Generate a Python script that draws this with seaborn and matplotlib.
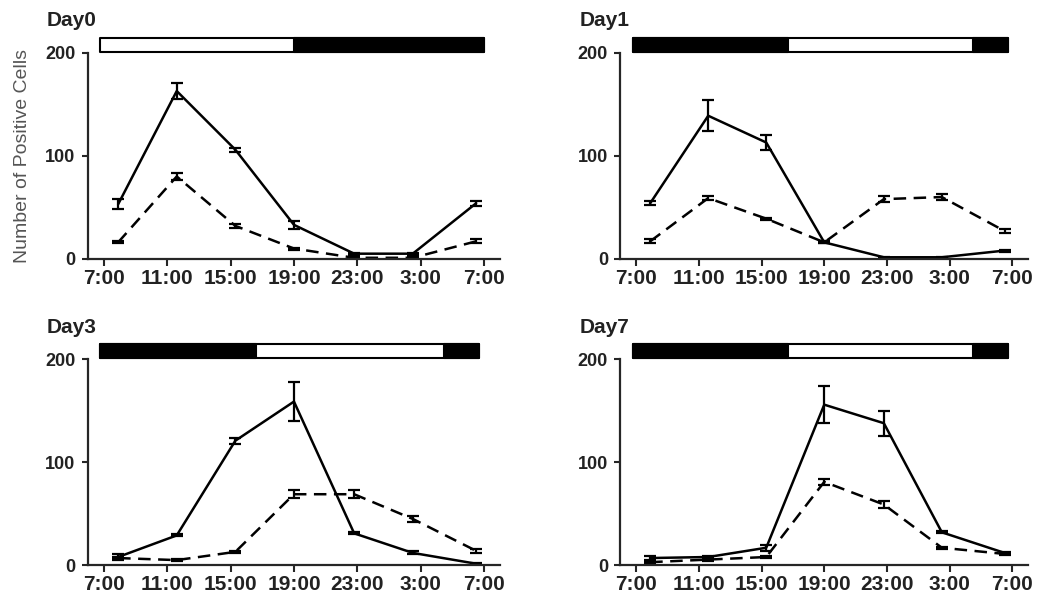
import matplotlib
matplotlib.use("Agg")
import matplotlib.pyplot as plt
import seaborn as sns
import pandas as pd

# sampling times (hours from midnight of day 0, >24 means next day)
times = [7.9, 11.6, 15.3, 19.0, 22.8, 26.5, 30.5]
tick_hours = [7, 11, 15, 19, 23, 27, 31]
tick_labels = ["7:00", "11:00", "15:00", "19:00", "23:00", "3:00", "7:00"]
panel_titles = ["Day0", "Day1", "Day3", "Day7"]

# solid line series (mean, error)
day0_solid = [53, 163, 106, 33, 5, 5, 54]
day0_solid_err = [5, 8, 2, 4, 1, 1, 2.5]
day1_solid = [54, 139, 113, 16, 1.5, 1.5, 8]
day1_solid_err = [2, 15, 7, 1, 0.5, 0.5, 1]
day3_solid = [8, 29, 121, 159, 31, 12, 1.5]
day3_solid_err = [3, 1, 3, 19, 1, 1.5, 0.5]
day7_solid = [7, 8, 17, 156, 138, 32, 12]
day7_solid_err = [2, 1, 3, 18, 12, 1, 1]

# dashed line series (mean, error)
day0_dash = [16, 80, 32, 10, 1, 1, 17]
day0_dash_err = [1, 3, 2, 1, 0.5, 0.5, 2]
day1_dash = [17, 59, 39, 16, 58, 60, 27]
day1_dash_err = [2, 2, 1, 1, 3, 3, 2]
day3_dash = [7, 5, 13, 69, 69, 45, 14]
day3_dash_err = [1, 1, 1, 4, 4, 2.5, 2]
day7_dash = [3, 5.5, 8, 81, 59, 17, 11]
day7_dash_err = [1, 1, 1, 3, 3.5, 1, 1]

# light/dark bar: (start, end) of whole bar and dark segments
bar_spans = [(6.75, 31.0), (6.8, 30.7), (6.75, 30.7), (6.8, 30.7)]
dark_segments = [
    [(19.0, 31.0)],
    [(6.8, 16.7), (28.5, 30.7)],
    [(6.75, 16.6), (28.5, 30.7)],
    [(6.8, 16.7), (28.5, 30.7)],
]

solids = [(day0_solid, day0_solid_err), (day1_solid, day1_solid_err),
          (day3_solid, day3_solid_err), (day7_solid, day7_solid_err)]
dashes = [(day0_dash, day0_dash_err), (day1_dash, day1_dash_err),
          (day3_dash, day3_dash_err), (day7_dash, day7_dash_err)]

sns.set_style("ticks")
plt.rcParams['font.family'] = ['Liberation Sans', 'DejaVu Sans']

fig = plt.figure(figsize=(10.48, 5.95), dpi=100)
positions = [
    [0.084, 0.565, 0.393, 0.346],
    [0.592, 0.565, 0.389, 0.346],
    [0.084, 0.050, 0.393, 0.346],
    [0.592, 0.050, 0.389, 0.346],
]

for i, pos in enumerate(positions):
    ax = fig.add_axes(pos)
    df = pd.DataFrame({"time": times,
                       "solid": solids[i][0], "dash": dashes[i][0]})
    sns.lineplot(data=df, x="time", y="solid", ax=ax, color="black",
                 linewidth=1.8)
    sns.lineplot(data=df, x="time", y="dash", ax=ax, color="black",
                 linewidth=1.8, dashes=False, linestyle=(0, (5, 3)))
    ax.errorbar(times, solids[i][0], yerr=solids[i][1], fmt="none",
                ecolor="black", elinewidth=1.6, capsize=4, capthick=1.6)
    ax.errorbar(times, dashes[i][0], yerr=dashes[i][1], fmt="none",
                ecolor="black", elinewidth=1.6, capsize=4, capthick=1.6)

    ax.set_xlim(6, 32)
    ax.set_ylim(0, 200)
    ax.set_xticks(tick_hours)
    ax.set_xticklabels(tick_labels, fontsize=15, fontweight="bold",
                       color="#222222")
    ax.set_yticks([0, 100, 200])
    ax.set_yticklabels(["0", "100", "200"], fontsize=13, fontweight="heavy",
                       color="#222222")
    ax.tick_params(axis="x", length=5, width=1.5, pad=2)
    ax.tick_params(axis="y", length=4, width=1.5, pad=5)
    for s in ["top", "right"]:
        ax.spines[s].set_visible(False)
    for s in ["left", "bottom"]:
        ax.spines[s].set_linewidth(1.6)
    ax.set_xlabel("")
    ax.set_ylabel("")

    # light/dark bar above the panel
    b0, b1 = bar_spans[i]
    ax.broken_barh([(b0, b1 - b0)], (201, 14), facecolors="white",
                   edgecolors="black", linewidth=1.5, clip_on=False)
    ax.broken_barh([(a, b - a) for a, b in dark_segments[i]], (201, 14),
                   facecolors="black", edgecolors="black", linewidth=1.5,
                   clip_on=False)

    ax.text(-0.10, 1.11, panel_titles[i], transform=ax.transAxes,
            fontsize=15, fontweight="bold", color="#222222",
            ha="left", va="bottom")

    if i == 0:
        ax.set_ylabel("Number of Positive Cells", fontsize=14,
                      color="#555555", labelpad=10)

plt.savefig("out.png", dpi=100)
plt.close()
